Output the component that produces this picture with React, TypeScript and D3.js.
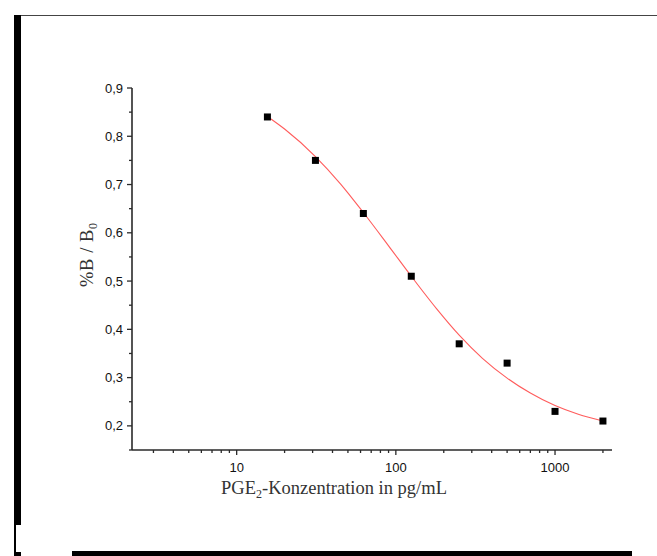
import * as d3 from "d3";

// measured standards (pg/mL) and %B/B0
const concentrations = [15.6, 31.25, 62.5, 125, 250, 500, 1000, 2000];
const bValues = [0.84, 0.75, 0.64, 0.51, 0.37, 0.33, 0.23, 0.21];

// fitted curve
const fitX = [15.6, 20, 31.25, 45, 62.5, 90, 125, 180, 250, 350, 500, 700, 1000, 1400, 2000];
const fitY = [0.841, 0.815, 0.758, 0.701, 0.642, 0.573, 0.51, 0.443, 0.388, 0.34, 0.299, 0.268, 0.242, 0.224, 0.21];

const xMajor = [10, 100, 1000];
const xMinor = [3, 4, 5, 6, 7, 8, 9, 20, 30, 40, 50, 60, 70, 80, 90, 200, 300, 400, 500, 600, 700, 800, 900, 2000];
const yMajor = [0.2, 0.3, 0.4, 0.5, 0.6, 0.7, 0.8, 0.9];
const yMinor = [0.15, 0.25, 0.35, 0.45, 0.55, 0.65, 0.75, 0.85];

const W = 657;
const H = 556;

const App = () => {
  const x = d3.scaleLog().domain([2.2, 2280]).range([132, 612]);
  const y = d3.scaleLinear().domain([0.15, 0.9]).range([450, 88]);

  const fit = fitX.map((v, i) => ({ x: v, y: fitY[i] }));
  const line = d3
    .line<{ x: number; y: number }>()
    .x((d) => x(d.x))
    .y((d) => y(d.y))
    .curve(d3.curveMonotoneX);

  const x0 = x.range()[0];
  const y0 = y.range()[0];
  const tickFont = "'Liberation Sans', Arial, sans-serif";
  const titleFont = "'Liberation Serif', 'Times New Roman', serif";
  const axisColor = "#2a2a2a";

  return (
    <svg
      width={W}
      height={H}
      style={{ position: "absolute", left: 0, top: 0, background: "#fff" }}
    >
      {/* frame pieces around the figure */}
      <line x1={14} x2={657} y1={15.5} y2={15.5} stroke="#444" strokeWidth={1} />
      <rect x={14} y={15} width={7} height={510} fill="#000" />
      <rect x={14} y={525} width={2} height={31} fill="#000" />
      <rect x={14} y={552} width={7} height={4} fill="#000" />
      <rect x={72} y={551} width={560} height={5} fill="#000" />

      {/* y axis */}
      <line x1={x0} x2={x0} y1={y(0.9)} y2={y0} stroke={axisColor} strokeWidth={1.6} />
      {yMajor.map((v) => (
        <g key={"ym" + v}>
          <line x1={x0 - 5} x2={x0} y1={y(v)} y2={y(v)} stroke={axisColor} strokeWidth={1.3} />
          <text
            x={x0 - 9}
            y={y(v)}
            dy="0.35em"
            textAnchor="end"
            fontFamily={tickFont}
            fontSize={13}
            fill="#111"
          >
            {d3.format(".1f")(v).replace(".", ",")}
          </text>
        </g>
      ))}
      {yMinor.map((v) => (
        <line key={"yn" + v} x1={x0 - 3} x2={x0} y1={y(v)} y2={y(v)} stroke={axisColor} strokeWidth={1.3} />
      ))}

      {/* x axis */}
      <line x1={x0} x2={x.range()[1]} y1={y0} y2={y0} stroke={axisColor} strokeWidth={1.6} />
      {xMajor.map((v) => (
        <g key={"xm" + v}>
          <line x1={x(v)} x2={x(v)} y1={y0} y2={y0 + 5} stroke={axisColor} strokeWidth={1.3} />
          <text
            x={x(v)}
            y={y0 + 22}
            textAnchor="middle"
            fontFamily={tickFont}
            fontSize={13}
            fill="#111"
          >
            {v}
          </text>
        </g>
      ))}
      {xMinor.map((v) => (
        <line key={"xn" + v} x1={x(v)} x2={x(v)} y1={y0} y2={y0 + 3} stroke={axisColor} strokeWidth={1.3} />
      ))}

      {/* fitted curve */}
      <path d={line(fit) ?? ""} fill="none" stroke="#ff5c5c" strokeWidth={1.1} />

      {/* standards */}
      {concentrations.map((c, i) => (
        <rect
          key={"p" + c}
          x={x(c) - 3.5}
          y={y(bValues[i]) - 3.5}
          width={7}
          height={7}
          fill="#000"
        />
      ))}

      {/* titles */}
      <text
        x={334}
        y={494}
        textAnchor="middle"
        fontFamily={titleFont}
        fontSize={18.5}
        fill="#333"
      >
        PGE<tspan fontSize={12} dy={4}>2</tspan>
        <tspan dy={-4}>-Konzentration in pg/mL</tspan>
      </text>
      <text
        transform="translate(93,255) rotate(-90)"
        textAnchor="middle"
        fontFamily={titleFont}
        fontSize={18.5}
        fill="#333"
        textLength={64}
        lengthAdjust="spacing"
      >
        %B / B<tspan fontSize={12} dy={4}>0</tspan>
      </text>
    </svg>
  );
};

export default App;
